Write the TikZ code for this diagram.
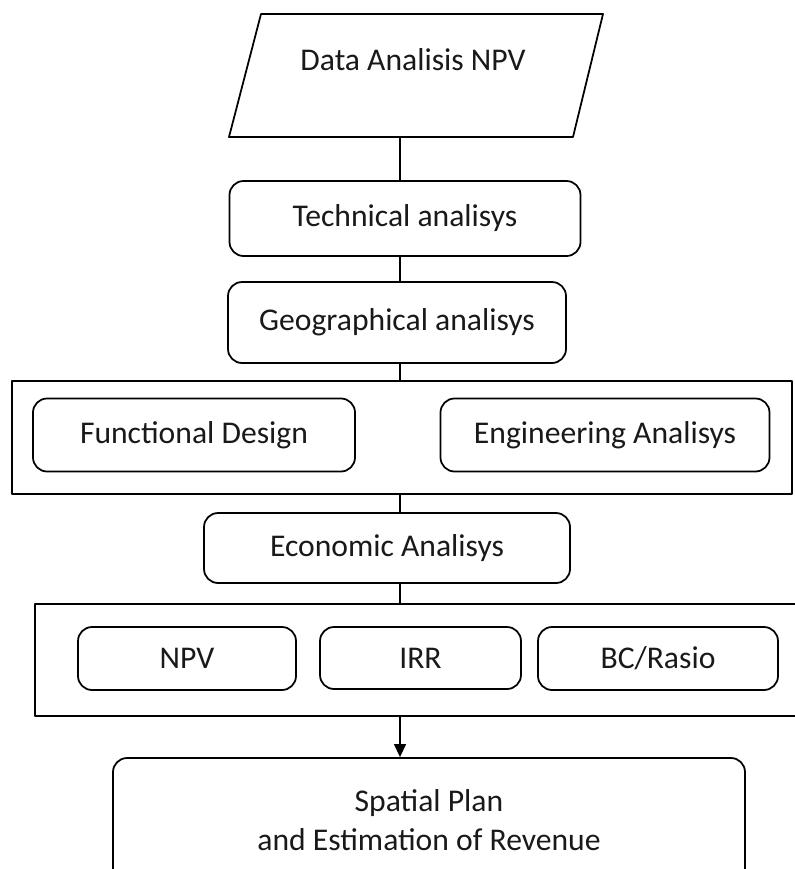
\documentclass[tikz,border=0pt]{standalone}
\usepackage{fontspec}
\setmainfont{Carlito}
\usetikzlibrary{arrows.meta}

\newcommand{\pu}{0.03cm}

\tikzset{
  stepbox/.style={draw, rounded corners=12pt, inner sep=0pt},
  groupbox/.style={draw, inner sep=0pt},
  size/.style 2 args={minimum width=#1*\pu, minimum height=#2*\pu},
}

\begin{document}
\begin{tikzpicture}[line width=1.5pt, line join=round, x=\pu, y=-\pu,
    every node/.style={font=\fontsize{27}{33}\selectfont, text=black!90}]
  \useasboundingbox (0,0) rectangle (795,869);
  % Input data.
  \draw (229,137) -- (261,14) -- (603,14) -- (573,137) -- cycle;
  \node (data) at (413,60) {Data Analisis NPV};
  \coordinate (datab) at (400,137);
  % Analysis steps.
  \node[stepbox, size={351}{75}] (tech) at (405,218.5) {Technical analisys};
  \node[stepbox, size={338}{81}] (geo) at (397,322.5) {Geographical analisys};
  % Design group.
  \node[groupbox, size={780}{113}] (design) at (402,437.5) {};
  \node[stepbox, size={322}{73}] (func) at (194,435) {Functional Design};
  \node[stepbox, size={329}{73}] (eng) at (605,435) {Engineering Analisys};
  \node[stepbox, size={366}{70}] (econ) at (387,548) {Economic Analisys};
  % Indicators group.
  \node[groupbox, size={790}{112}] (ind) at (430,660) {};
  \node[stepbox, size={218}{63}] (npv) at (187,658.5) {NPV};
  \node[stepbox, size={201}{62}] (irr) at (420.5,658) {IRR};
  \node[stepbox, size={240}{63}] (bc) at (658,658.5) {BC/Rasio};
  % Result.
  \node[stepbox, size={632}{124}, align=center] (plan) at (429,820)
    {Spatial Plan\\and Estimation of Revenue};
  % The spine.
  \draw (datab) -- (datab |- tech.north);
  \draw (tech.south -| datab) -- (geo.north -| datab);
  \draw (geo.south -| datab) -- (design.north -| datab);
  \draw (design.south -| datab) -- (econ.north -| datab);
  \draw (econ.south -| datab) -- (ind.north -| datab);
  \draw[-{Triangle[length=11pt,width=10pt]}] (ind.south -| datab) -- (plan.north -| datab);
\end{tikzpicture}
\end{document}
